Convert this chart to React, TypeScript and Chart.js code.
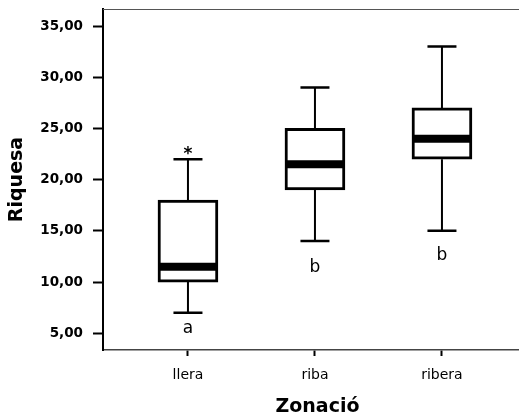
import React, { useEffect, useRef } from "react";
import { Chart, registerables } from "chart.js";

Chart.register(...registerables);

const categories = ["llera", "riba", "ribera"];
const whiskerLow = [7, 14, 15];
const q1 = [10, 19, 22];
const median = [11.5, 21.5, 24];
const q3 = [18, 25, 27];
const whiskerHigh = [22, 29, 33];
const outliers: number[][] = [[23], [], []];
const groupLetters = ["a", "b", "b"];
const letterBaseline = [5.05, 10.95, 12.2];
const yTicks = [5, 10, 15, 20, 25, 30, 35];

const FONT = "'DejaVu Sans', Verdana, sans-serif";

const boxPlugin = {
  id: "boxExtras",
  afterDatasetsDraw(chart: any) {
    const { ctx, chartArea, scales } = chart;
    const xs = scales.x;
    const ys = scales.y;
    ctx.save();
    // top frame line
    ctx.strokeStyle = "#555";
    ctx.lineWidth = 1;
    ctx.beginPath();
    ctx.moveTo(chartArea.left, chartArea.top + 0.5);
    ctx.lineTo(chartArea.right, chartArea.top + 0.5);
    ctx.stroke();

    ctx.strokeStyle = "#000";
    categories.forEach((_, i) => {
      const x = xs.getPixelForValue(i);
      const half = 30;
      const capHalf = 14.5;
      // whiskers
      ctx.lineWidth = 2;
      ctx.beginPath();
      ctx.moveTo(x, ys.getPixelForValue(q3[i]));
      ctx.lineTo(x, ys.getPixelForValue(whiskerHigh[i]));
      ctx.moveTo(x, ys.getPixelForValue(q1[i]));
      ctx.lineTo(x, ys.getPixelForValue(whiskerLow[i]));
      ctx.stroke();
      // caps
      ctx.lineWidth = 2.5;
      ctx.beginPath();
      ctx.moveTo(x - capHalf, ys.getPixelForValue(whiskerHigh[i]));
      ctx.lineTo(x + capHalf, ys.getPixelForValue(whiskerHigh[i]));
      ctx.moveTo(x - capHalf, ys.getPixelForValue(whiskerLow[i]));
      ctx.lineTo(x + capHalf, ys.getPixelForValue(whiskerLow[i]));
      ctx.stroke();
      // median
      ctx.lineWidth = 8;
      ctx.beginPath();
      ctx.moveTo(x - half + 1, ys.getPixelForValue(median[i]));
      ctx.lineTo(x + half - 1, ys.getPixelForValue(median[i]));
      ctx.stroke();
      // outliers
      ctx.fillStyle = "#000";
      ctx.font = `bold 17px ${FONT}`;
      ctx.textAlign = "center";
      outliers[i].forEach((v) => {
        const m = ctx.measureText("*");
        const asc = m.actualBoundingBoxAscent;
        const desc = m.actualBoundingBoxDescent;
        const yc = ys.getPixelForValue(v);
        ctx.textBaseline = "alphabetic";
        ctx.fillText("*", x, yc + (asc - desc) / 2 + 2);
      });
      // group letters
      ctx.font = `17px ${FONT}`;
      ctx.textBaseline = "alphabetic";
      ctx.fillText(groupLetters[i], x, ys.getPixelForValue(letterBaseline[i]));
    });
    ctx.restore();
  },
};

export default function App() {
  const ref = useRef<HTMLCanvasElement | null>(null);
  useEffect(() => {
    if (!ref.current) return;
    const chart = new Chart(ref.current, {
      type: "bar",
      data: {
        datasets: [
          {
            data: categories.map((_, i) => ({ x: i, y: [q1[i], q3[i]] })) as any,
            backgroundColor: "#fff",
            borderColor: "#000",
            borderWidth: 3,
            borderSkipped: false,
            barThickness: 60,
          },
        ],
      },
      options: {
        responsive: false,
        animation: false,
        events: [],
        layout: { padding: { top: 9, right: 0, bottom: 0, left: 0 } },
        plugins: { legend: { display: false }, tooltip: { enabled: false } },
        scales: {
          x: {
            type: "linear",
            min: -0.669,
            max: 2.709,
            offset: false,
            grid: {
              display: true,
              drawOnChartArea: false,
              drawTicks: true,
              tickLength: 6,
              tickWidth: 2,
              tickColor: "#000",
              offset: false,
            },
            border: { display: true, color: "#444", width: 1.5 },
            afterBuildTicks: (s: any) => {
              s.ticks = categories.map((_, i) => ({ value: i }));
            },
            afterFit: (s: any) => {
              s.height = 68;
              s.paddingLeft = 0;
              s.paddingRight = 0;
            },
            ticks: {
              color: "#000",
              font: { family: FONT, size: 14 },
              padding: 11,
              maxRotation: 0,
              callback: (v: any) => categories[v as number] ?? "",
            },
            title: {
              display: true,
              text: "Zonació",
              color: "#000",
              font: { family: FONT, size: 19, weight: "bold" },
              padding: { top: 0, bottom: 0 },
            },
          },
          y: {
            type: "linear",
            min: 3.37,
            max: 36.66,
            grid: {
              display: true,
              drawOnChartArea: false,
              drawTicks: true,
              tickLength: 10,
              tickWidth: 2,
              tickColor: "#000",
            },
            border: { display: true, color: "#000", width: 2 },
            afterBuildTicks: (s: any) => {
              s.ticks = yTicks.map((v) => ({ value: v }));
            },
            afterFit: (s: any) => {
              s.width = 103;
              s.paddingTop = 0;
              s.paddingBottom = 0;
            },
            ticks: {
              color: "#000",
              font: { family: FONT, size: 13.5, weight: "bold" },
              padding: 10,
              callback: (v: any) => Number(v).toFixed(2).replace(".", ","),
            },
            title: {
              display: true,
              text: "Riquesa",
              color: "#000",
              font: { family: FONT, size: 19, weight: "bold" },
              padding: { top: 6, bottom: 0 },
            },
          },
        },
      },
      plugins: [boxPlugin],
    });
    return () => chart.destroy();
  }, []);
  return (
    <div
      style={{
        position: "absolute",
        left: 0,
        top: 0,
        width: 519,
        height: 418,
        overflow: "hidden",
      }}
    >
      <canvas ref={ref} width={532} height={418} style={{ display: "block" }} />
    </div>
  );
}
